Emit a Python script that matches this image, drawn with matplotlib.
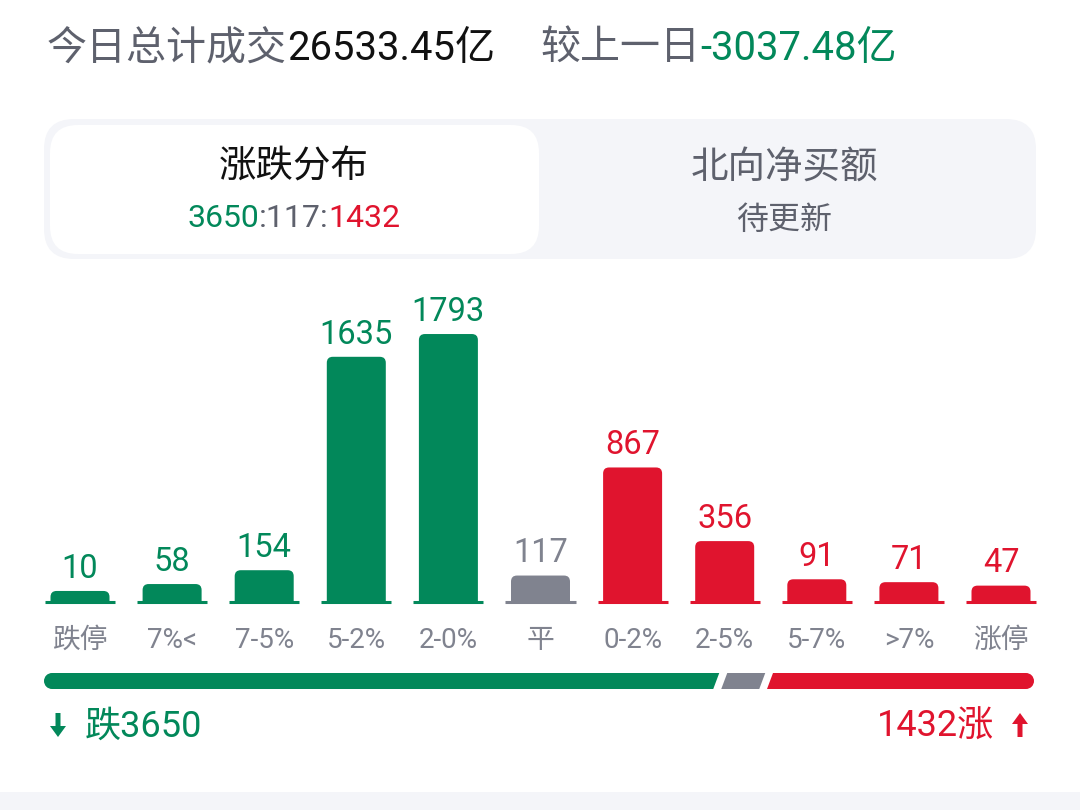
import matplotlib.pyplot as plt
from matplotlib.patches import FancyBboxPatch, Rectangle, Polygon, Circle, FancyArrow

plt.rcParams['font.family'] = ['Roboto', 'Noto Sans CJK SC', 'DejaVu Sans']

# data
categories = ['跌停', '7%<', '7-5%', '5-2%', '2-0%', '平', '0-2%', '2-5%', '5-7%', '>7%', '涨停']
counts = [10, 58, 154, 1635, 1793, 117, 867, 356, 91, 71, 47]
kinds = ['down'] * 5 + ['flat'] + ['up'] * 5

total_turnover = '26533.45亿'
turnover_change = '-3037.48亿'
down_total, flat_total, up_total = 3650, 117, 1432

GREEN = '#02885A'
RED = '#E0142E'
GREY = '#80838F'
TEXT_GREY = '#5E616D'
PANEL = '#F4F5F9'
colors = {'down': GREEN, 'flat': GREY, 'up': RED}

W, H = 1080, 810
fig = plt.figure(figsize=(W / 100, H / 100), dpi=100)
fig.patch.set_facecolor('white')

# full-figure axes in pixel units for the app "chrome"
ui = fig.add_axes([0, 0, 1, 1])
ui.set_xlim(0, W)
ui.set_ylim(H, 0)
ui.set_axis_off()

renderer = fig.canvas.get_renderer()


def run(x, y, parts, size, ha='left', weight='normal'):
    # draw a line of text made of differently coloured pieces
    ts = []
    cx = x
    for s, c in parts:
        t = ui.text(cx, y, s, fontsize=size, color=c, ha='left', va='baseline', fontweight=weight)
        cx += t.get_window_extent(renderer).width
        ts.append(t)
    shift = {'left': 0, 'center': (cx - x) / 2, 'right': cx - x}[ha]
    for t in ts:
        t.set_x(t.get_position()[0] - shift)


# header line
run(47, 60, [('今日总计成交', TEXT_GREY), (total_turnover, '#111111')], 28.8)
run(540, 60, [('较上一日', TEXT_GREY), (turnover_change, GREEN)], 28.8)

# tab panel
ui.add_patch(FancyBboxPatch((44, 119), 992, 140, boxstyle='round,pad=0,rounding_size=30',
                            fc=PANEL, ec='none'))
ui.add_patch(FancyBboxPatch((50, 125), 489, 129, boxstyle='round,pad=0,rounding_size=28',
                            fc='white', ec='none'))
ui.text(294, 178, '涨跌分布', fontsize=27, color='#111111', ha='center', va='baseline', fontweight='medium')
run(294, 227, [(str(down_total), GREEN), (':%d:' % flat_total, TEXT_GREY), (str(up_total), RED)], 23, ha='center')
ui.text(784, 178, '北向净买额', fontsize=27, color=TEXT_GREY, ha='center', va='baseline')
ui.text(784, 229, '待更新', fontsize=23, color=TEXT_GREY, ha='center', va='baseline')

# bar chart axes, placed so that one stock = `scale` px
step = 92.1
x0 = 80
base = 602
scale = 0.1441
ax_top, ax_bot = 280, 620
left = x0 - step / 2
ax = fig.add_axes([left / W, (H - ax_bot) / H, len(counts) * step / W, (ax_bot - ax_top) / H])
ax.set_xlim(-0.5, len(counts) - 0.5)
ax.set_ylim(-(ax_bot - base) / scale, (base - ax_top) / scale)
ax.set_axis_off()
ax.patch.set_alpha(0)

min_h = 9.6 / scale          # every bar gets a small stub
bar_w = 59 / step
base_w = 70 / step
r = 6 / step
aspect = step / scale
for i, (v, k) in enumerate(zip(counts, kinds)):
    c = colors[k]
    h = v + min_h
    p = FancyBboxPatch((i - bar_w / 2, -80), bar_w, h + 80,
                       boxstyle='round,pad=0,rounding_size=%f' % r,
                       mutation_aspect=aspect, fc=c, ec='none')
    ax.add_patch(p)
    p.set_clip_path(Rectangle((i - bar_w, 0), 2 * bar_w, 1e5, transform=ax.transData))
    ax.plot([i - base_w / 2, i + base_w / 2], [0, 0], color=c, lw=2.2,
            solid_capstyle='butt', clip_on=False)
    ax.annotate(str(v), (i, h), xytext=(0, 9.5), textcoords='offset points',
                ha='center', va='baseline', fontsize=23.5, color=c, annotation_clip=False)
    ax.annotate(categories[i], (i, 0), xytext=(0, -33), textcoords='offset points',
                ha='center', va='baseline', fontsize=20, color=GREY, annotation_clip=False)

# split bar down / flat / up
y_top, y_bot = 673, 689
mid = (y_top + y_bot) / 2
rad = (y_bot - y_top) / 2
lx, rx = 44, 1034
gap, slant, flat_min = 8, 6, 38
n_all = down_total + flat_total + up_total
flat_w = max(flat_min, flat_total / n_all * (rx - lx))
rest = rx - lx - 2 * gap - flat_w
down_w = rest * down_total / (down_total + up_total)
a = lx + down_w
b = a + gap + flat_w
c0 = b + gap
ui.add_patch(Circle((lx + rad, mid), rad, fc=GREEN, ec='none'))
ui.add_patch(Polygon([(lx + rad, y_top), (a + slant / 2, y_top), (a - slant / 2, y_bot), (lx + rad, y_bot)],
                     closed=True, fc=GREEN, ec='none'))
ui.add_patch(Polygon([(a + gap + slant / 2, y_top), (b + slant / 2, y_top), (b - slant / 2, y_bot),
                      (a + gap - slant / 2, y_bot)], closed=True, fc=GREY, ec='none'))
ui.add_patch(Polygon([(c0 + slant / 2, y_top), (rx - rad, y_top), (rx - rad, y_bot), (c0 - slant / 2, y_bot)],
                     closed=True, fc=RED, ec='none'))
ui.add_patch(Circle((rx - rad, mid), rad, fc=RED, ec='none'))

# totals under the bar
ui.add_patch(FancyArrow(58, 713, 0, 24, width=5, head_width=16, head_length=11,
                        length_includes_head=True, fc=GREEN, ec='none'))
ui.text(85, 737, '跌%d' % down_total, fontsize=26, color=GREEN, ha='left', va='baseline')
ui.add_patch(FancyArrow(1020, 737, 0, -24, width=5, head_width=16, head_length=11,
                        length_includes_head=True, fc=RED, ec='none'))
ui.text(994, 737, '%d涨' % up_total, fontsize=26, color=RED, ha='right', va='baseline')

# grey strip at the very bottom
ui.add_patch(Rectangle((0, 792), W, H - 792, fc=PANEL, ec='none'))

fig.savefig('out.png', dpi=100)
